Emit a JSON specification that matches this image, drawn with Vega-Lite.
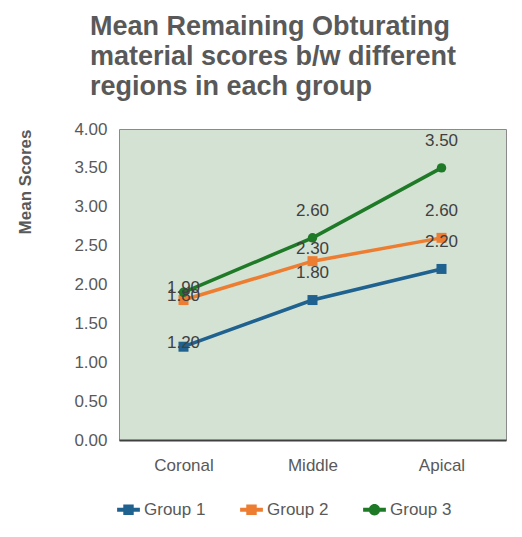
{
  "$schema": "https://vega.github.io/schema/vega-lite/v6.json",
  "width": 387,
  "height": 311,
  "padding": {"left": 16, "top": 13, "right": 10, "bottom": 5},
  "background": "white",
  "title": {
    "text": ["Mean Remaining Obturating", "material scores b/w different", "regions in each group"],
    "anchor": "start",
    "frame": "bounds",
    "dx": 73,
    "font": "Liberation Sans",
    "fontSize": 27,
    "fontWeight": "bold",
    "color": "#595959",
    "lineHeight": 30,
    "offset": 19
  },
  "config": {
    "font": "Liberation Sans",
    "view": {"fill": "#d4e2d4", "stroke": "#8a8a8a", "strokeWidth": 1}
  },
  "data": {
    "values": [
      {"region": "Coronal", "group": "Group 1", "score": 1.2},
      {"region": "Middle", "group": "Group 1", "score": 1.8},
      {"region": "Apical", "group": "Group 1", "score": 2.2},
      {"region": "Coronal", "group": "Group 2", "score": 1.8},
      {"region": "Middle", "group": "Group 2", "score": 2.3},
      {"region": "Apical", "group": "Group 2", "score": 2.6},
      {"region": "Coronal", "group": "Group 3", "score": 1.9},
      {"region": "Middle", "group": "Group 3", "score": 2.6},
      {"region": "Apical", "group": "Group 3", "score": 3.5}
    ]
  },
  "encoding": {
    "x": {
      "field": "region", "type": "nominal", "sort": ["Coronal", "Middle", "Apical"],
      "scale": {"type": "point", "padding": 0.5},
      "axis": {"title": null, "labelAngle": 0, "labelFontSize": 17, "labelColor": "#595959", "ticks": false, "labelPadding": 17, "domainColor": "#404040", "domainWidth": 2, "grid": false}
    },
    "y": {
      "field": "score", "type": "quantitative",
      "scale": {"domain": [0, 4], "nice": false},
      "axis": {"title": "Mean Scores", "titleFontSize": 17, "titleColor": "#595959", "titleFontWeight": "bold", "titleAnchor": "end", "titlePadding": 39, "values": [0, 0.5, 1, 1.5, 2, 2.5, 3, 3.5, 4], "format": ".2f", "labelFontSize": 17, "labelColor": "#595959", "ticks": false, "domain": false, "grid": false, "labelPadding": 12}
    },
    "color": {
      "field": "group", "type": "nominal",
      "scale": {"domain": ["Group 1", "Group 2", "Group 3"], "range": ["#1f618f", "#ed7d31", "#1f7a27"]},
      "legend": {
        "title": null, "orient": "bottom", "direction": "horizontal",
        "labelFontSize": 17, "labelColor": "#595959", "symbolSize": 360, "columnPadding": 34, "labelOffset": 6, "offset": 27,
        "symbolStrokeWidth": 0, "symbolOpacity": 1,
        "encode": {"symbols": {"update": {"shape": {"signal": "datum.value === 'Group 3' ? 'M-1.2,-0.2H1.2V0.2H-1.2Z M0.6,0A0.6,0.6,0,1,1,-0.6,0A0.6,0.6,0,1,1,0.6,0Z' : 'M-1.2,-0.2H1.2V0.2H-1.2Z M-0.55,-0.55H0.55V0.55H-0.55Z'"}}}}
      }
    }
  },
  "layer": [
    {"mark": {"type": "line", "strokeWidth": 3.5}},
    {
      "transform": [{"filter": "datum.group !== 'Group 3'"}],
      "mark": {"type": "point", "filled": true, "opacity": 1, "shape": "square", "size": 100}
    },
    {
      "transform": [{"filter": "datum.group === 'Group 3'"}],
      "mark": {"type": "point", "filled": true, "opacity": 1, "shape": "circle", "size": 90}
    },
    {
      "transform": [{"filter": "datum.region !== 'Coronal' && !(datum.region === 'Middle' && datum.group === 'Group 2')"}],
      "mark": {"type": "text", "dy": -27, "fontSize": 17},
      "encoding": {"text": {"field": "score", "format": ".2f"}, "color": {"value": "#404040"}}
    },
    {
      "transform": [{"filter": "datum.region === 'Middle' && datum.group === 'Group 2'"}],
      "mark": {"type": "text", "dy": -12, "fontSize": 17},
      "encoding": {"text": {"field": "score", "format": ".2f"}, "color": {"value": "#404040"}}
    },
    {
      "transform": [{"filter": "datum.region === 'Coronal'"}],
      "mark": {"type": "text", "dy": -4, "fontSize": 17},
      "encoding": {"text": {"field": "score", "format": ".2f"}, "color": {"value": "#404040"}}
    }
  ]
}
